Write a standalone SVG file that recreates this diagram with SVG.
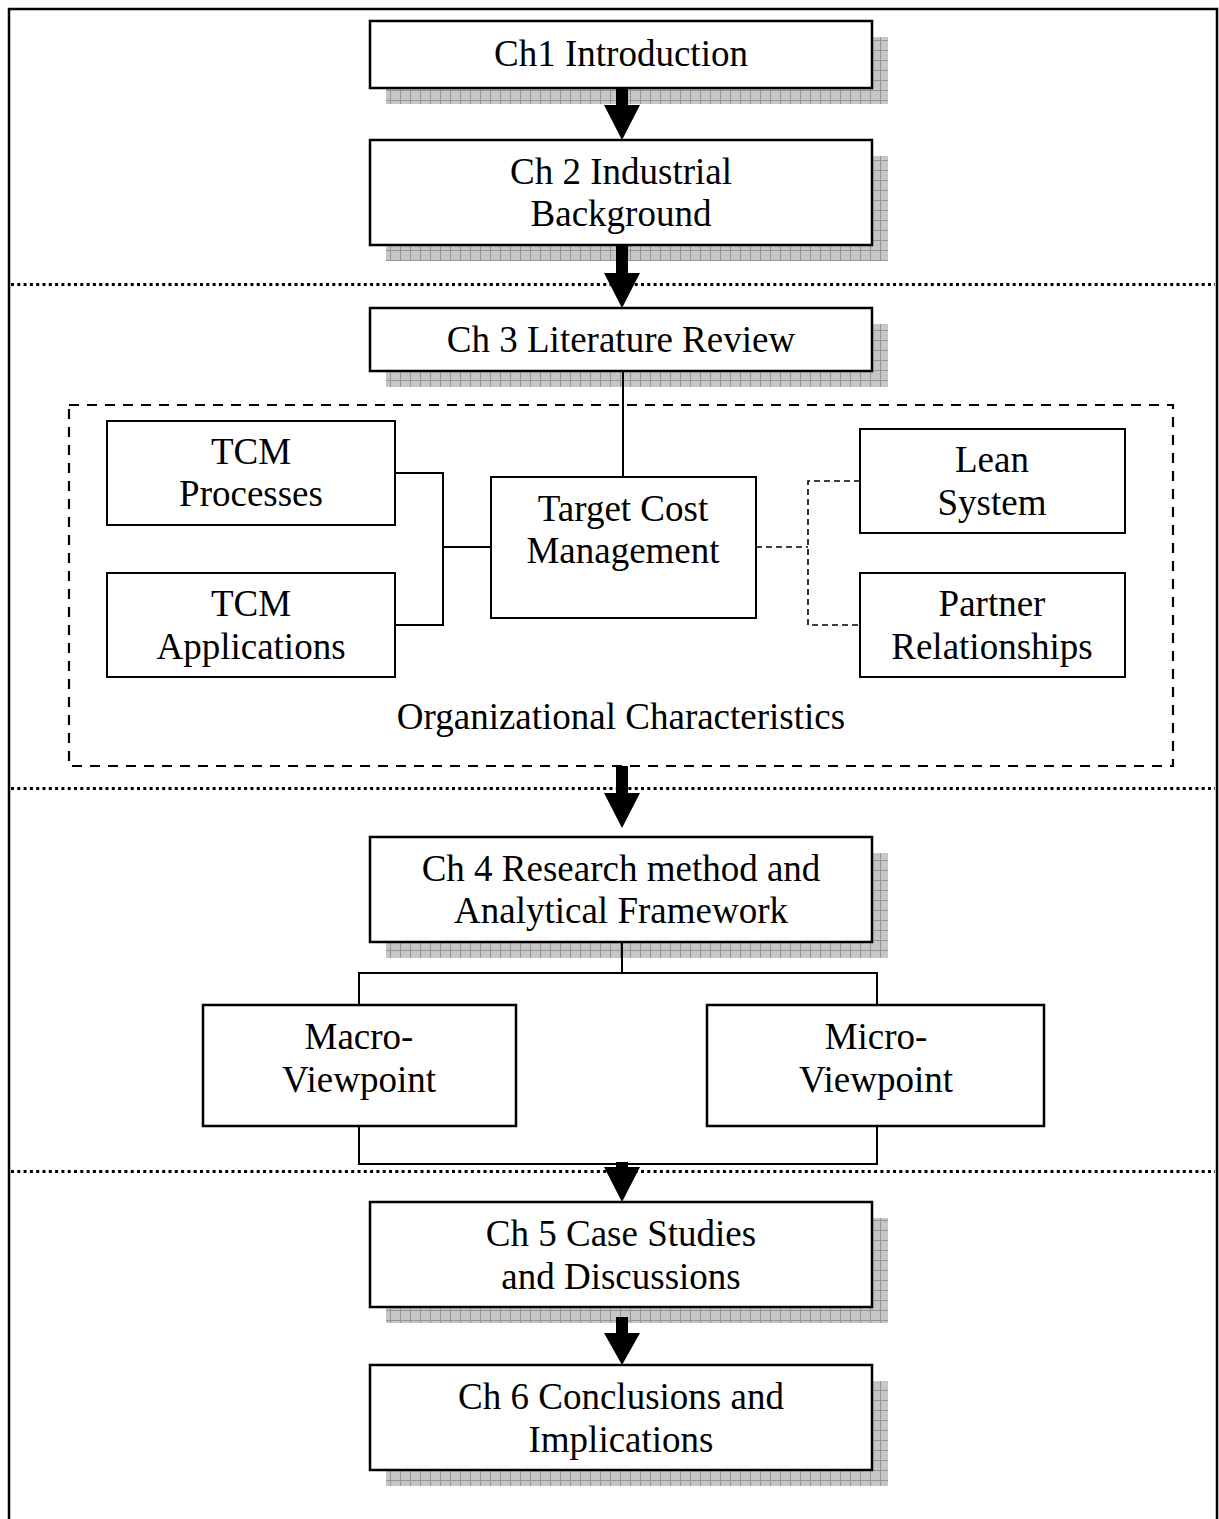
<svg xmlns="http://www.w3.org/2000/svg" width="1219" height="1519" viewBox="0 0 1219 1519">
<style>
text{font-family:"Liberation Serif","Times New Roman",serif;font-size:37px;fill:#000;text-anchor:middle}
.box{fill:#fff;stroke:#000;stroke-width:2.5}
.ibox{fill:#fff;stroke:#000;stroke-width:2}
.shadow{fill:url(#grid);stroke:none}
.dots{stroke:#000;stroke-width:3;stroke-dasharray:3 3.3;fill:none}
.dash{stroke:#000;stroke-width:2.2;stroke-dasharray:10 8;fill:none}
.sdash{stroke:#000;stroke-width:1.6;stroke-dasharray:6 4;fill:none}
.line{stroke:#000;stroke-width:2;fill:none}
.arrow{fill:#000;stroke:none}
</style>
<defs>
<pattern id="grid" x="0" y="0" width="10" height="10" patternUnits="userSpaceOnUse">
<rect width="10" height="10" fill="#c6c6c6"/>
<path d="M0 0.5H10M0.5 0V10" stroke="#959595" stroke-width="1"/>
</pattern>
</defs>
<rect width="1219" height="1519" fill="#fff"/>
<path d="M9 1530V9H1217V1530" fill="none" stroke="#000" stroke-width="2.5"/>

<g id="separators">
<line class="dots" x1="11" y1="284.5" x2="1215" y2="284.5"/>
<line class="dots" x1="11" y1="788.5" x2="1215" y2="788.5"/>
<line class="dots" x1="11" y1="1171.5" x2="1215" y2="1171.5"/>
</g>

<g id="org-container">
<rect class="dash" x="69" y="405" width="1104" height="361"/>
<text x="621" y="729">Organizational Characteristics</text>
</g>

<g id="ch1">
<rect class="shadow" x="386" y="37" width="502" height="67"/>
<rect class="box" x="370" y="21" width="502" height="67"/>
<text x="621" y="66">Ch1  Introduction</text>
</g>
<g id="ch2">
<rect class="shadow" x="386" y="156" width="502" height="105"/>
<rect class="box" x="370" y="140" width="502" height="105"/>
<text x="621" y="184">Ch 2 Industrial</text>
<text x="621" y="226">Background</text>
</g>
<g id="ch3">
<rect class="shadow" x="386" y="324" width="502" height="63"/>
<rect class="box" x="370" y="308" width="502" height="63"/>
<text x="621" y="352">Ch 3 Literature Review</text>
</g>
<g id="tcm-processes">
<rect class="ibox" x="107" y="421" width="288" height="104"/>
<text x="251" y="464">TCM</text>
<text x="251" y="506">Processes</text>
</g>
<g id="tcm-applications">
<rect class="ibox" x="107" y="573" width="288" height="104"/>
<text x="251" y="616">TCM</text>
<text x="251" y="659">Applications</text>
</g>
<g id="target-cost-management">
<rect class="ibox" x="491" y="477" width="265" height="141"/>
<text x="623" y="521">Target Cost</text>
<text x="623" y="563">Management</text>
</g>
<g id="lean-system">
<rect class="ibox" x="860" y="429" width="265" height="104"/>
<text x="992" y="472">Lean</text>
<text x="992" y="515">System</text>
</g>
<g id="partner-relationships">
<rect class="ibox" x="860" y="573" width="265" height="104"/>
<text x="992" y="616">Partner</text>
<text x="992" y="659">Relationships</text>
</g>
<g id="ch4">
<rect class="shadow" x="386" y="853" width="502" height="105"/>
<rect class="box" x="370" y="837" width="502" height="105"/>
<text x="621" y="881">Ch 4 Research method and</text>
<text x="621" y="923">Analytical Framework</text>
</g>
<g id="macro">
<rect class="box" x="203" y="1005" width="313" height="121"/>
<text x="359" y="1049">Macro-</text>
<text x="359" y="1092">Viewpoint</text>
</g>
<g id="micro">
<rect class="box" x="707" y="1005" width="337" height="121"/>
<text x="876" y="1049">Micro-</text>
<text x="876" y="1092">Viewpoint</text>
</g>
<g id="ch5">
<rect class="shadow" x="386" y="1218" width="502" height="105"/>
<rect class="box" x="370" y="1202" width="502" height="105"/>
<text x="621" y="1246">Ch 5 Case Studies</text>
<text x="621" y="1289">and Discussions</text>
</g>
<g id="ch6">
<rect class="shadow" x="386" y="1381" width="502" height="105"/>
<rect class="box" x="370" y="1365" width="502" height="105"/>
<text x="621" y="1409">Ch 6 Conclusions and</text>
<text x="621" y="1452">Implications</text>
</g>

<g id="connectors">
<line class="line" x1="623" y1="371" x2="623" y2="477"/>
<path class="line" d="M395 473H443V625H395M443 547H491"/>
<path class="sdash" d="M756 547H808M860 481H808V625H860"/>
<path class="line" d="M622 942V973M359 1005V973H877V1005M359 1126V1164H877V1126"/>
<path class="arrow" d="M616 88H628V105H640L622 140L604 105H616Z"/>
<path class="arrow" d="M616 245H628V273H640L622 308L604 273H616Z"/>
<path class="arrow" d="M616 766H628V793H640L622 828L604 793H616Z"/>
<path class="arrow" d="M616 1162H628V1167H640L622 1202L604 1167H616Z"/>
<path class="arrow" d="M616 1317H628V1333H640L622 1365L604 1333H616Z"/>
</g>
</svg>
